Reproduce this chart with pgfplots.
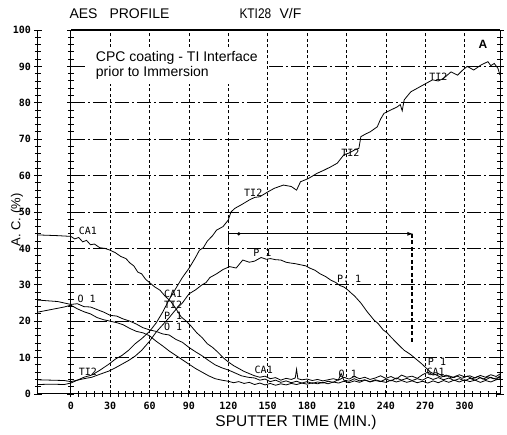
\documentclass[border=0pt]{standalone}
\usepackage{pgfplots}
\pgfplotsset{compat=1.18}
\usepackage{fontspec}
\setmainfont{Liberation Sans}
\newfontfamily\plotfont{DejaVu Sans Mono}
\usetikzlibrary{arrows.meta}
\begin{document}
\begin{tikzpicture}[x=1pt,y=1pt]
\useasboundingbox (0,0) rectangle (507,435);
\begin{axis}[
  at={(38pt,41pt)}, anchor=south west, scale only axis,
  width=462pt, height=364pt,
  xmin=-25, xmax=327, ymin=0, ymax=100,
  axis x line*=bottom, axis y line*=box,
  axis line style={line width=1pt},
  xtick={0,30,...,300}, minor xtick={6,12,...,324},
  ytick={0,10,...,100}, minor ytick={2,4,...,98},
  tick align=center, major tick length=7pt, minor tick length=6pt,
  every tick/.style={black, line width=0.9pt},
  /pgf/number format/assume math mode=true,
  tick label style={font=\plotfont\bfseries\fontsize{10}{10}\selectfont},
  xticklabel style={yshift=-1pt},
  clip=false,
]
% frame top
\draw[line width=1.2pt] (axis cs:0,100) -- (axis cs:327,100);
% grid
\pgfplotsinvokeforeach{10,20,...,90}{\draw[line width=0.7pt, dash pattern=on 14pt off 3pt on 2pt off 3pt] (axis cs:0,#1) -- (axis cs:327,#1);}
\pgfplotsinvokeforeach{30,60,...,300}{\draw[line width=0.5pt, dash pattern=on 3pt off 2.5pt] (axis cs:#1,0) -- (axis cs:#1,100);}
% annotation box
\node[fill=white, anchor=west, align=left, inner xsep=8pt, inner ysep=5pt, font=\fontsize{14}{14.5}\selectfont, xshift=-8pt] at (axis cs:19,90.3) {CPC coating - TI Interface\\prior to Immersion};
% CA1
\addplot[black, no markers, line width=0.8pt] coordinates {(-25,43.7)(-10,43.5)(0,43.3)(3,42.6)(6,43.0)(9,41.8)(12,42.2)(15,41.0)(18,41.2)(22,40.2)(26,40.0)(30,39.5)(34,38.8)(38,37.8)(42,37.2)(45,36.0)(48,35.2)(51,33.5)(54,33.0)(57,31.5)(60,30.6)(64,29.4)(68,28.5)(72,26.8)(76,25.5)(80,23.5)(84,21.2)(88,20.0)(92,18.5)(96,16.8)(100,15.5)(104,13.8)(108,12.8)(112,11.5)(116,10.0)(120,8.8)(124,7.8)(128,7.0)(132,6.2)(136,5.6)(140,5.0)(144,4.6)(148,4.9)(152,4.2)(156,4.5)(160,3.8)(164,4.3)(168,4.0)(171,4.4)(172,6.8)(173,4.2)(176,3.9)(180,4.1)(184,3.7)(188,4.0)(192,3.6)(196,3.9)(200,4.2)(204,3.8)(208,4.6)(212,4.1)(216,4.8)(220,4.2)(224,4.6)(228,4.0)(232,4.4)(236,5.0)(240,4.3)(244,4.8)(248,4.1)(252,5.2)(256,4.6)(260,4.9)(264,4.3)(268,5.3)(272,6.0)(276,5.2)(280,5.6)(284,4.8)(288,5.0)(292,4.5)(296,5.3)(300,4.7)(304,5.0)(308,4.4)(312,5.1)(316,4.6)(320,5.3)(324,4.8)(327,5.5)};
% O 1
\addplot[black, no markers, line width=0.8pt] coordinates {(-25,25.8)(-10,25.4)(0,24.6)(5,24.8)(10,24.0)(15,23.9)(20,23.2)(25,22.5)(30,21.6)(35,21.4)(40,20.6)(45,20.0)(50,19.2)(55,18.2)(60,17.6)(65,17.2)(70,16.5)(75,16.2)(80,15.0)(85,14.2)(90,12.8)(95,11.6)(100,10.5)(105,9.2)(110,8.0)(115,7.2)(120,6.6)(125,5.8)(130,5.0)(135,4.6)(140,4.4)(144,3.8)(148,4.1)(152,3.4)(156,3.8)(160,3.2)(164,3.6)(168,3.1)(172,3.5)(176,3.0)(180,3.4)(184,2.9)(188,3.3)(192,3.0)(196,3.5)(200,3.2)(204,4.0)(206,5.6)(208,3.8)(212,3.5)(216,4.2)(220,3.6)(224,3.9)(228,3.3)(232,3.7)(236,3.4)(240,4.1)(244,3.6)(248,4.4)(252,3.8)(256,4.3)(260,3.7)(264,4.2)(268,3.8)(272,4.6)(276,4.0)(280,4.5)(284,3.9)(288,4.4)(292,3.7)(296,4.2)(300,3.6)(304,4.3)(308,3.8)(312,4.5)(316,3.9)(320,4.6)(324,4.0)(327,5.0)};
% second descending curve
\addplot[black, no markers, line width=0.8pt] coordinates {(-25,22.5)(-15,23.2)(-5,23.9)(0,24.4)(5,23.4)(10,22.6)(15,22.0)(20,21.0)(25,20.4)(30,20.0)(35,19.6)(40,19.0)(45,18.0)(50,17.2)(55,16.8)(60,16.0)(65,14.5)(70,13.2)(75,11.8)(80,10.6)(85,9.4)(90,8.2)(95,7.0)(100,6.0)(105,5.0)(110,4.2)(115,3.8)(120,3.5)(124,3.1)(128,3.4)(132,2.9)(136,3.2)(140,2.6)(144,3.0)(148,2.5)(152,2.9)(156,2.4)(160,2.8)(164,2.5)(168,2.9)(172,2.6)(176,3.0)(180,2.7)(184,3.1)(188,2.8)(192,3.2)(196,2.8)(200,3.3)(204,3.0)(208,3.5)(212,3.1)(216,3.6)(220,3.2)(224,3.8)(228,3.4)(232,3.9)(236,3.5)(240,3.2)(244,3.8)(248,3.3)(252,3.7)(256,3.2)(260,3.6)(264,3.1)(268,3.5)(272,3.0)(276,3.6)(280,3.1)(284,3.7)(288,3.2)(292,3.8)(296,3.3)(300,3.9)(304,3.4)(308,3.8)(312,3.2)(316,3.7)(320,3.3)(324,3.9)(327,4.2)};
% TI2
\addplot[black, no markers, line width=0.8pt] coordinates {(-25,2.6)(-15,2.7)(-5,2.6)(0,3.0)(5,3.8)(10,4.6)(16,5.2)(22,6.5)(29,8.2)(34,9.6)(39,10.6)(44,12.0)(49,13.8)(54,15.2)(60,17.2)(65,19.5)(70,22.5)(75,26.0)(80,29.0)(85,32.0)(90,34.5)(95,37.5)(98,39.5)(101,40.2)(104,42.0)(108,43.5)(111,45.0)(116,46.0)(120,47.8)(122,50.0)(125,51.0)(130,52.0)(136,53.3)(140,54.0)(144,54.2)(150,55.5)(155,56.5)(162,57.4)(168,57.0)(172,56.0)(175,58.3)(181,59.2)(187.5,60.6)(193,61.5)(198,62.4)(203,63.4)(208,65.7)(212,66.2)(216,67.0)(219.5,67.5)(221,70.7)(225,71.5)(228,72.0)(233.5,73.4)(236,75.5)(238.6,77.1)(243.7,78.0)(248.8,78.9)(251,79.5)(252.5,77.8)(254,80.8)(259,83.0)(264,84.0)(269,85.0)(275.6,86.3)(280,86.0)(284,86.7)(289.7,88.5)(294.7,87.6)(298,88.8)(302,90.0)(307,89.0)(312.6,90.4)(317.8,91.3)(320,90.2)(322.6,90.8)(325.4,89.5)(327,87.6)};
% P 1
\addplot[black, no markers, line width=0.8pt] coordinates {(-25,3.9)(-15,3.8)(-5,3.7)(0,3.4)(5,3.8)(10,4.2)(16,4.6)(22,5.4)(29,6.3)(34,7.2)(39,8.2)(44,9.2)(49,10.4)(54,12.0)(60,14.5)(65,17.0)(70,19.0)(75,21.0)(80,23.2)(85,25.0)(90,27.5)(95,28.6)(100,30.0)(103,30.6)(106,32.0)(111,33.0)(116,34.2)(121,35.0)(126,34.6)(131,36.8)(136,36.2)(140,36.5)(145,37.5)(149,37.0)(152,37.2)(156,36.9)(160,36.8)(164,36.2)(167,36.0)(171,35.8)(175,35.5)(179,35.2)(182,34.6)(186,34.0)(190,33.0)(194,32.3)(198,31.3)(202,30.6)(205,29.8)(208,29.4)(211,28.6)(214,27.6)(216,27.0)(219,25.8)(221,25.0)(224,23.5)(226,22.5)(229,21.2)(231,20.3)(234,19.4)(236,18.5)(238,17.6)(241,16.8)(244,15.6)(247,14.5)(250,13.4)(254,12.0)(257,11.3)(259,10.8)(262,9.9)(264,9.3)(267,8.4)(270,7.4)(274,6.0)(278,5.3)(282,4.6)(286,5.2)(290,4.4)(294,5.0)(298,4.3)(302,4.9)(306,4.2)(310,4.8)(314,4.1)(318,4.7)(322,4.2)(327,4.6)};
% arrow and dashed markers
\draw[line width=1pt, -{Latex[length=6pt,width=4pt]}] (axis cs:120,44) -- (axis cs:261,44);
\fill (axis cs:128,44) circle (1.8pt);
\draw[line width=1.6pt, dash pattern=on 4pt off 2.5pt] (axis cs:120,44) -- (axis cs:120,34.6);
\draw[line width=1.6pt, dash pattern=on 4pt off 2.5pt] (axis cs:260,44) -- (axis cs:260,14);
% curve labels
\begin{scope}[every node/.style={font=\plotfont\fontsize{10}{10}\selectfont, inner sep=0pt}]
\node at (axis cs:13,44.8) {CA1};
\node at (axis cs:12,26.2) {O 1};
\node at (axis cs:13,6.2) {TI2};
\node at (axis cs:78,27.5) {CA1};
\node at (axis cs:78,24.5) {TI2};
\node at (axis cs:78,21.6) {P 1};
\node at (axis cs:78,18.5) {O 1};
\node at (axis cs:146,38.8) {P 1};
\node at (axis cs:212,31.5) {P: 1};
\node at (axis cs:279,8.9) {P 1};
\node at (axis cs:147,6.7) {CA1};
\node at (axis cs:211,5.6) {O 1};
\node at (axis cs:278,6.1) {CA1};
\node at (axis cs:139,55.3) {TI2};
\node at (axis cs:213,66.2) {TI2};
\node at (axis cs:280,87.2) {TI2};
\end{scope}
\node[font=\bfseries\fontsize{12}{12}\selectfont] at (axis cs:314,96) {A};
\end{axis}
% second axis: the tick-marked vertical line at x = 0
\begin{axis}[
  at={(38pt,41pt)}, anchor=south west, scale only axis,
  width=462pt, height=364pt,
  xmin=-25, xmax=327, ymin=0, ymax=100,
  axis x line=none, axis y line*=middle,
  axis line style={line width=1pt},
  ytick={0,10,...,100}, minor ytick={2,4,...,98}, yticklabels={},
  tick align=center, major tick length=7pt, minor tick length=6pt,
  every tick/.style={black, line width=0.9pt},
]
\end{axis}
% titles
\node[anchor=west, font=\fontsize{14}{14}\selectfont] at (66,421) {AES};
\node[anchor=west, font=\fontsize{14}{14}\selectfont] at (106,421) {PROFILE};
\node[anchor=west, font=\fontsize{14}{14}\selectfont] at (236,421) {\scalebox{0.85}[1]{KTI28}};
\node[anchor=west, font=\fontsize{14}{14}\selectfont] at (276,421) {V/F};
\node[font=\fontsize{15.5}{15.5}\selectfont] at (296,13) {SPUTTER TIME (MIN.)};
\node[rotate=90, font=\fontsize{13}{13}\selectfont] at (17,215) {A. C. (\%)};
\end{tikzpicture}
\end{document}
